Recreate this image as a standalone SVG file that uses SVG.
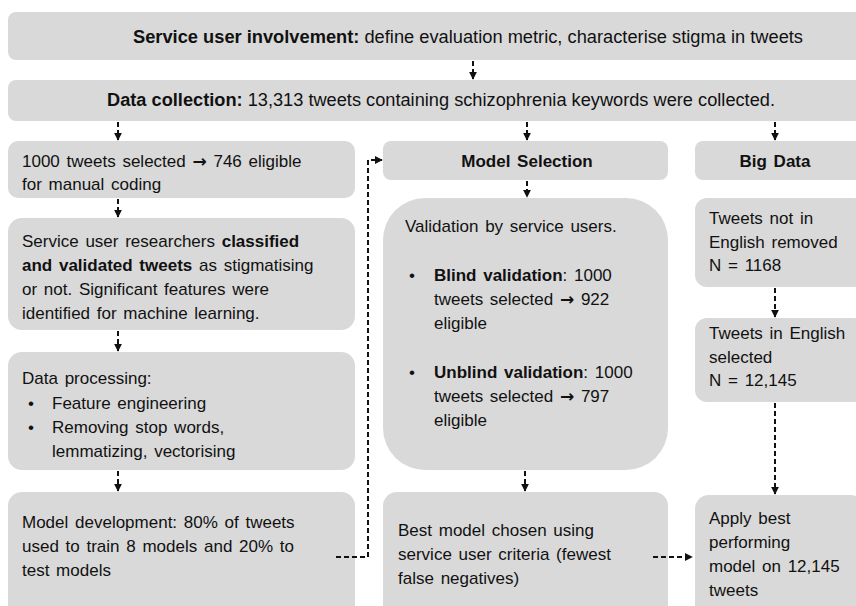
<svg xmlns="http://www.w3.org/2000/svg" width="856" height="606" viewBox="0 0 856 606">
<style>
.box{fill:#d9d9d9;}
text{font-family:"Liberation Sans",Arial,sans-serif;font-size:17px;fill:#111;word-spacing:2px;}
.t{font-size:17.5px;word-spacing:0;}
.b{font-weight:bold;}
.c{text-anchor:middle;}
.ar{font-family:"DejaVu Sans",sans-serif;font-weight:bold;}
.con{stroke:#111;stroke-width:2;stroke-dasharray:5 3;fill:none;marker-end:url(#ah);}
</style>
<defs>
<marker id="ah" viewBox="0 0 10 10" refX="9" refY="5" markerWidth="4" markerHeight="4" orient="auto">
<path d="M0,0 L10,5 L0,10 z" fill="#111"/>
</marker>
</defs>
<rect width="856" height="606" fill="#fff"/>
<g id="n-involvement">
<rect class="box" x="8" y="12" width="860" height="48" rx="8"/>
<text x="468" y="43" class="c t" textLength="670" lengthAdjust="spacingAndGlyphs"><tspan class="b">Service user involvement:</tspan> define evaluation metric, characterise stigma in tweets</text>
</g>
<g id="n-collection">
<rect class="box" x="8" y="80" width="860" height="41" rx="8"/>
<text x="441" y="106" class="c t" textLength="668" lengthAdjust="spacingAndGlyphs"><tspan class="b">Data collection:</tspan> 13,313 tweets containing schizophrenia keywords were collected.</text>
</g>
<g id="n-manual">
<rect class="box" x="8" y="141" width="347" height="57" rx="10"/>
<text x="22" y="167">1000 tweets selected <tspan class="ar">→</tspan> 746 eligible</text>
<text x="22" y="190">for manual coding</text>
</g>
<g id="n-classified">
<rect class="box" x="8" y="218" width="347" height="112" rx="14"/>
<text x="22" y="247">Service user researchers <tspan class="b">classified</tspan></text>
<text x="22" y="271"><tspan class="b">and validated tweets</tspan> as stigmatising</text>
<text x="22" y="295">or not. Significant features were</text>
<text x="22" y="319">identified for machine learning.</text>
</g>
<g id="n-processing">
<rect class="box" x="8" y="352" width="347" height="118" rx="14"/>
<text x="22" y="384">Data processing:</text>
<text x="28" y="409">•</text><text x="52" y="409">Feature engineering</text>
<text x="28" y="433">•</text><text x="52" y="433">Removing stop words,</text>
<text x="52" y="457">lemmatizing, vectorising</text>
</g>
<g id="n-development">
<rect class="box" x="8" y="492" width="347" height="130" rx="14"/>
<text x="22" y="528">Model development: 80% of tweets</text>
<text x="22" y="552">used to train 8 models and 20% to</text>
<text x="22" y="576">test models</text>
</g>
<g id="n-modelsel">
<rect class="box" x="383" y="141" width="285" height="39" rx="8"/>
<text x="527" y="167" class="c b">Model Selection</text>
</g>
<g id="n-validation">
<rect class="box" x="383" y="198" width="285" height="272" rx="42"/>
<text x="405" y="232">Validation by service users.</text>
<text x="409" y="281">•</text>
<text x="434" y="281"><tspan class="b">Blind validation</tspan>: 1000</text>
<text x="434" y="305">tweets selected <tspan class="ar">→</tspan> 922</text>
<text x="434" y="329">eligible</text>
<text x="409" y="378">•</text>
<text x="434" y="378"><tspan class="b">Unblind validation</tspan>: 1000</text>
<text x="434" y="402">tweets selected <tspan class="ar">→</tspan> 797</text>
<text x="434" y="426">eligible</text>
</g>
<g id="n-best">
<rect class="box" x="383" y="492" width="285" height="130" rx="14"/>
<text x="398" y="536">Best model chosen using</text>
<text x="398" y="560">service user criteria (fewest</text>
<text x="398" y="584">false negatives)</text>
</g>
<g id="n-bigdata">
<rect class="box" x="695" y="141" width="170" height="39" rx="8"/>
<text x="775" y="167" class="c b">Big Data</text>
</g>
<g id="n-notenglish">
<rect class="box" x="695" y="198" width="170" height="89" rx="12"/>
<text x="709" y="224">Tweets not in</text>
<text x="709" y="248">English removed</text>
<text x="709" y="271">N = 1168</text>
</g>
<g id="n-english">
<rect class="box" x="695" y="318" width="170" height="84" rx="12"/>
<text x="709" y="339">Tweets in English</text>
<text x="709" y="363">selected</text>
<text x="709" y="386">N = 12,145</text>
</g>
<g id="n-apply">
<rect class="box" x="695" y="495" width="170" height="130" rx="14"/>
<text x="709" y="524">Apply best</text>
<text x="709" y="548">performing</text>
<text x="709" y="572">model on 12,145</text>
<text x="709" y="596">tweets</text>
</g>
<g id="connectors">
<path class="con" d="M473,61 V79"/>
<path class="con" d="M118,122 V140"/>
<path class="con" d="M527,122 V140"/>
<path class="con" d="M775,122 V140"/>
<path class="con" d="M118,199 V217"/>
<path class="con" d="M118,331 V351"/>
<path class="con" d="M118,471 V491"/>
<path class="con" d="M527,181 V197"/>
<path class="con" d="M525,471 V491"/>
<path class="con" d="M775,288 V317"/>
<path class="con" d="M775,403 V494"/>
<path class="con" d="M336,557 H368 V160 H382"/>
<path class="con" d="M653,557 H692"/>
</g>
</svg>
